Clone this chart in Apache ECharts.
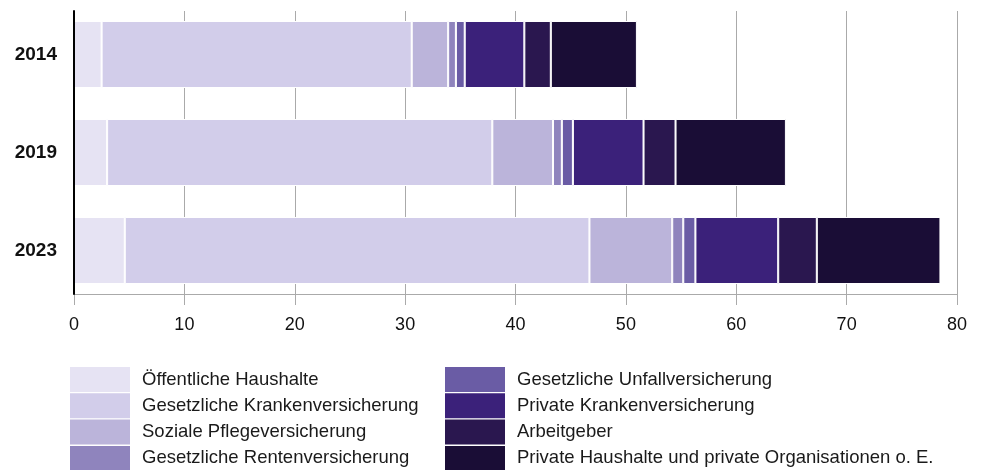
<!DOCTYPE html>
<html>
<head>
<meta charset="utf-8">
<script src="https://cdn.jsdelivr.net/npm/echarts@6/dist/echarts.min.js"></script>
<style>
  html, body { margin: 0; padding: 0; background: #fff; }
  #chart { width: 981px; height: 470px; }
</style>
</head>
<body>
<div id="chart"></div>
<script>
  // Jahre (y-Achse)
  var years = ['2014', '2019', '2023']
  var xTicks = [0, 10, 20, 30, 40, 50, 60, 70, 80]

  // Ausgabenträger, Werte je Jahr
  var seriesNames = [
    'Öffentliche Haushalte',
    'Gesetzliche Krankenversicherung',
    'Soziale Pflegeversicherung',
    'Gesetzliche Rentenversicherung',
    'Gesetzliche Unfallversicherung',
    'Private Krankenversicherung',
    'Arbeitgeber',
    'Private Haushalte und private Organisationen o. E.'
  ]
  var oeffentlicheHaushalte = [2.5, 3.0, 4.6]
  var gkv = [28.1, 34.9, 42.1]
  var pflege = [3.3, 5.5, 7.5]
  var rente = [0.7, 0.8, 1.0]
  var unfall = [0.8, 1.0, 1.1]
  var pkv = [5.4, 6.4, 7.5]
  var arbeitgeber = [2.4, 2.9, 3.5]
  var privateHaushalte = [7.8, 10.0, 11.2]

  var values = [oeffentlicheHaushalte, gkv, pflege, rente, unfall, pkv, arbeitgeber, privateHaushalte]
  var colors = ['#e6e3f3', '#d2cdea', '#bbb4da', '#8f84bd', '#6a5ca5', '#3b217a', '#2a174f', '#1a0d36']

  var chart = echarts.init(document.getElementById('chart'))

  var font = 'Liberation Sans, Arial, sans-serif'
  var legendText = {
    color: '#1a1a1a',
    fontSize: 18.5,
    lineHeight: 25,
    fontFamily: font,
    padding: [0, 0, 0, 7]
  }
  var legendBase = {
    orient: 'vertical',
    top: 367,
    height: 200,
    padding: 0,
    itemWidth: 60,
    itemHeight: 25,
    itemGap: 1.3,
    icon: 'rect',
    itemStyle: { borderWidth: 0 },
    selectedMode: false,
    textStyle: legendText
  }

  chart.setOption({
    animation: false,
    color: colors,
    textStyle: { fontFamily: font },
    // grid 0: Balken, grid 1: Achsen und Gitterlinien
    grid: [
      { left: 74, right: 24, top: 5.5, bottom: 170.5 },
      { left: 74, right: 24, top: 11, bottom: 176 }
    ],
    legend: [
      Object.assign({}, legendBase, { left: 70, data: seriesNames.slice(0, 4) }),
      Object.assign({}, legendBase, { left: 445, data: seriesNames.slice(4) })
    ],
    xAxis: [{
      type: 'value',
      gridIndex: 0,
      min: xTicks[0],
      max: xTicks[xTicks.length - 1],
      interval: 10,
      axisLine: { show: false },
      axisTick: { show: false },
      axisLabel: { show: false },
      splitLine: { show: false }
    }, {
      type: 'value',
      gridIndex: 1,
      min: xTicks[0],
      max: xTicks[xTicks.length - 1],
      interval: 10,
      axisLine: {
        show: true,
        lineStyle: { color: '#aaa', width: 1 }
      },
      axisTick: {
        show: true,
        length: 11,
        lineStyle: { color: '#aaa' }
      },
      axisLabel: {
        color: '#111',
        fontSize: 18,
        margin: 22
      },
      splitLine: {
        show: true,
        lineStyle: { color: '#aaa', width: 1 }
      }
    }],
    yAxis: [{
      type: 'category',
      gridIndex: 0,
      inverse: true,
      data: years,
      axisLine: { show: false },
      axisTick: { show: false },
      axisLabel: {
        color: '#111',
        fontSize: 19,
        fontWeight: 'bold',
        margin: 17
      }
    }, {
      type: 'category',
      gridIndex: 1,
      inverse: true,
      data: years,
      z: 3,
      axisLine: {
        show: true,
        lineStyle: { color: '#000', width: 2 }
      },
      axisTick: { show: false },
      axisLabel: { show: false }
    }],
    series: values.map(function (data, i) {
      return {
        name: seriesNames[i],
        type: 'bar',
        stack: 'total',
        xAxisIndex: 0,
        yAxisIndex: 0,
        barWidth: 67,
        itemStyle: {
          color: colors[i],
          borderColor: '#fff',
          borderWidth: 1
        },
        data: data
      }
    })
  })
</script>
</body>
</html>
